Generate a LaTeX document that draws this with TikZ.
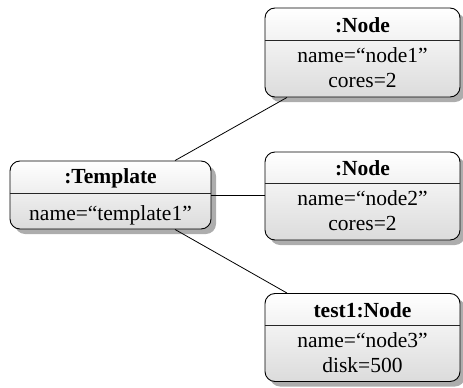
\documentclass[tikz,border=0pt]{standalone}
\usepackage{fontspec}
\setmainfont{Liberation Serif}
\usetikzlibrary{shadows,calc}
\begin{document}
\begin{tikzpicture}[x=1pt,y=-1pt,
  obj/.style={draw=black, line width=0.9pt, rounded corners=10pt,
    top color=white, bottom color=black!14,
    drop shadow={shadow xshift=5pt, shadow yshift=-5pt, fill=black!32, opacity=1},
    inner sep=0pt},
  hdr/.style={font=\fontsize{21.5}{26}\selectfont\bfseries, inner sep=0pt, anchor=base},
  body/.style={font=\fontsize{21.5}{25}\selectfont, inner sep=0pt, anchor=base},
  sep/.style={draw=black!85, line width=0.6pt},
  conn/.style={draw=black, line width=0.8pt}]
\useasboundingbox (0,0) rectangle (463,388);

% Template
\node[obj, minimum width=201pt, minimum height=68pt] (t) at (110.5,195) {};
\draw[sep] ($(t.north west)+(0,33)$) -- ($(t.north east)+(0,33)$);
\node[hdr] (th) at ($(t.north)+(0,23)$) {:Template};
\node[body] (tb) at ($(t.north)+(0,60)$) {name=“template1”};

% Node 1
\node[obj, minimum width=195pt, minimum height=89pt] (n1) at (362.5,52.5) {};
\draw[sep] ($(n1.north west)+(0,33)$) -- ($(n1.north east)+(0,33)$);
\node[hdr] (n1h) at ($(n1.north)+(0,25)$) {:Node};
\node[body] (n1a) at ($(n1.north)+(0,55)$) {name=“node1”};
\node[body] (n1b) at ($(n1.north)+(0,80)$) {cores=2};

% Node 2
\node[obj, minimum width=195pt, minimum height=88pt] (n2) at (362.5,196) {};
\draw[sep] ($(n2.north west)+(0,32)$) -- ($(n2.north east)+(0,32)$);
\node[hdr] (n2h) at ($(n2.north)+(0,24)$) {:Node};
\node[body] (n2a) at ($(n2.north)+(0,54)$) {name=“node2”};
\node[body] (n2b) at ($(n2.north)+(0,79)$) {cores=2};

% Node 3
\node[obj, minimum width=195pt, minimum height=88pt] (n3) at (362.5,337.5) {};
\draw[sep] ($(n3.north west)+(0,32)$) -- ($(n3.north east)+(0,32)$);
\node[hdr] (n3h) at ($(n3.north)+(0,24)$) {test1:Node};
\node[body] (n3a) at ($(n3.north)+(0,54)$) {name=“node3”};
\node[body] (n3b) at ($(n3.north)+(0,79)$) {disk=500};

% connectors
\draw[conn] ($(t.north)+(64.5,0)$) -- ($(n1.south)+(-75.5,0)$);
\draw[conn] (t.east) -- (t.east -| n2.west);
\draw[conn] ($(t.south)+(64.5,0)$) -- ($(n3.north)+(-75.5,0)$);
\end{tikzpicture}
\end{document}
